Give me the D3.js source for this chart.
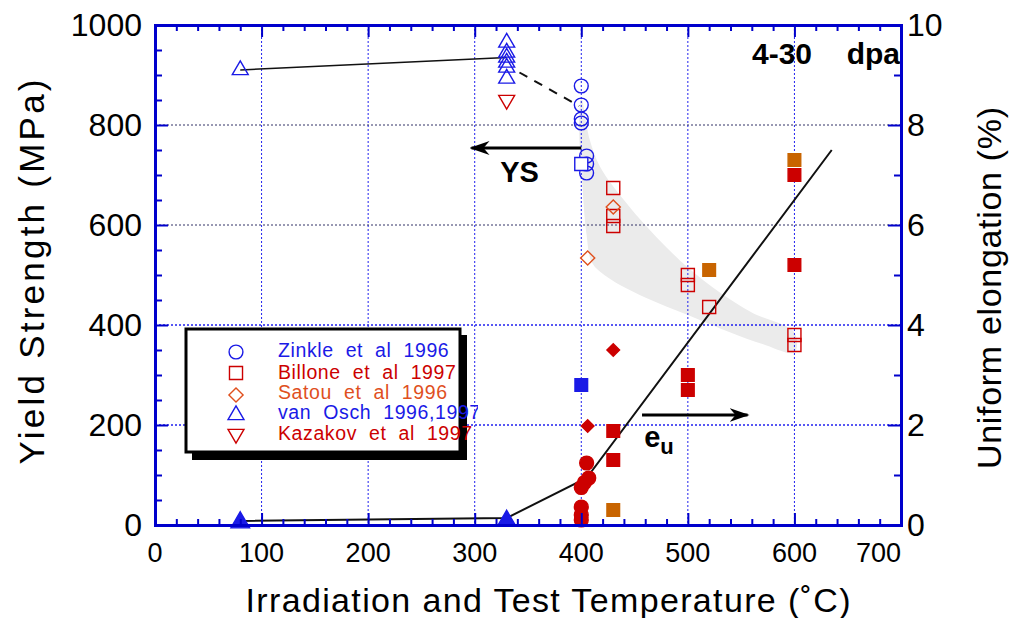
<!DOCTYPE html>
<html><head><meta charset="utf-8">
<script src="https://cdn.jsdelivr.net/npm/d3@7"></script>
<style>body{margin:0;background:#fff} text{font-family:"Liberation Sans",Arial,Helvetica,sans-serif}</style>
</head><body>
<svg id="c" width="1011" height="618"></svg>
<script>
// ---------- data ----------
const xTicks = [0,100,200,300,400,500,600,700];
const yLeftTicks = [0,200,400,600,800,1000];
const yRightTicks = [0,2,4,6,8,10];
const legendLabels = ["Zinkle et al 1996","Billone et al 1997","Satou et al 1996","van Osch 1996,1997","Kazakov et al 1997"];

// yield strength (MPa, left axis) - open symbols
const zinkleYS = [[400,878],[400,840],[400,812],[400,804],[405,738],[405,722],[405,704]];
const blueSquareYS = [[400,722]];
const billoneYS = [[430,674],[430,618],[430,598],[500,500],[500,480],[520,436],[600,380],[600,360]];
const satouYS = [[430,636],[406,534]];
const vanOschYS = [[330,965],[330,945],[330,935],[330,925],[330,915],[330,893],[80,910]];
const kazakovYS = [[330,850]];
const ysTrendSolid = [[80,910],[330,935]];
const ysTrendDashed = [[342,905],[398,838]];
const bandUpper = [[400,855],[408,770],[418,715],[440,650],[460,600],[480,555],[500,515],[530,465],[560,425],[600,385]];
const bandLower = [[398,800],[401,680],[405,580],[410,525],[425,495],[460,455],[500,420],[540,385],[570,362],[600,345]];

// uniform elongation (%, right axis) - filled symbols
const vanOschEU = [[80,0.05],[330,0.08]];
const zinkleEU = [[405,1.24],[407,0.94],[403,0.85],[400,0.75],[400,0.36],[400,0.2],[400,0.1]];
const blueSquareEU = [[400,2.8]];
const billoneEU = [[430,1.88],[430,1.3],[500,3.0],[500,2.7],[600,7.0],[600,5.2]];
const billoneEU2 = [[430,0.3],[520,5.1],[600,7.3]];
const satouEU = [[406,1.98],[430,3.5]];
const euTrend = [[80,0.08],[330,0.14],[405,0.94],[635,7.5]];

// ---------- layout ----------
const svg = d3.select("#c");
const L=155, R=901, T=25, B=525;
const x = d3.scaleLinear().domain([0,700]).range([L,R]);
const yL = d3.scaleLinear().domain([0,1000]).range([B,T]);
const yR = d3.scaleLinear().domain([0,10]).range([B,T]);
const AX="#0000cc", BLUE="#1a1ae6", RED="#cc0000", ORANGE="#e0501e", BROWN="#c86400";

// band
const band = bandUpper.concat(bandLower.slice().reverse());
svg.append("path").attr("d", d3.line().x(d=>x(d[0])).y(d=>yL(d[1])).curve(d3.curveCatmullRomClosed)(band))
  .attr("fill","#ebebeb");

// grid
[100,200,300,400,500,600].forEach(v=>{
  svg.append("line").attr("x1",x(v)).attr("x2",x(v)).attr("y1",T).attr("y2",B)
    .attr("stroke","#2020ee").attr("stroke-width",1).attr("stroke-dasharray","2,2");
});
[200,400].forEach(v=>{
  svg.append("line").attr("x1",L).attr("x2",R).attr("y1",yL(v)).attr("y2",yL(v))
    .attr("stroke","#2020ee").attr("stroke-width",1.3).attr("stroke-dasharray","2,2");
});
[600,800].forEach(v=>{
  svg.append("line").attr("x1",L).attr("x2",R).attr("y1",yL(v)).attr("y2",yL(v))
    .attr("stroke","#333366").attr("stroke-width",1).attr("stroke-dasharray","2,2");
});

// trend lines
const lineL = d3.line().x(d=>x(d[0])).y(d=>yL(d[1]));
const lineR = d3.line().x(d=>x(d[0])).y(d=>yR(d[1]));
svg.append("path").attr("d",lineL(ysTrendSolid)).attr("fill","none").attr("stroke","#111").attr("stroke-width",1.5);
svg.append("path").attr("d",lineL(ysTrendDashed)).attr("fill","none").attr("stroke","#111").attr("stroke-width",2).attr("stroke-dasharray","9,8");
svg.append("path").attr("d",lineR(euTrend)).attr("fill","none").attr("stroke","#111").attr("stroke-width",2);

// markers
const sym = (type,size)=>d3.symbol().type(type).size(size)();
function pts(data, yScale, type, size, fill, stroke, rot){
  svg.append("g").selectAll("path").data(data).join("path")
    .attr("d", sym(type,size))
    .attr("transform", d=>`translate(${x(d[0])},${yScale(d[1])})${rot?` rotate(${rot})`:""}`)
    .attr("fill", fill).attr("stroke", stroke).attr("stroke-width", 1.4);
}
pts(zinkleYS, yL, d3.symbolCircle, 150, "none", BLUE);
pts(vanOschYS, yL, d3.symbolTriangle, 110, "none", BLUE);
pts(kazakovYS, yL, d3.symbolTriangle, 110, "none", RED, 180);
pts(billoneYS, yL, d3.symbolSquare, 170, "none", RED);
pts(blueSquareYS, yL, d3.symbolSquare, 170, "white", BLUE);
pts(satouYS, yL, d3.symbolSquare, 100, "none", ORANGE, 45);

pts(vanOschEU, yR, d3.symbolTriangle, 150, BLUE, BLUE);
pts(zinkleEU, yR, d3.symbolCircle, 150, RED, RED);
pts(blueSquareEU, yR, d3.symbolSquare, 160, BLUE, BLUE);
pts(billoneEU, yR, d3.symbolSquare, 160, RED, RED);
pts(billoneEU2, yR, d3.symbolSquare, 160, BROWN, BROWN);
pts(satouEU, yR, d3.symbolSquare, 80, RED, RED, 45);

// arrows
const defs = svg.append("defs");
defs.append("marker").attr("id","ah").attr("viewBox","0 0 20 14").attr("refX",18).attr("refY",7)
  .attr("markerWidth",20).attr("markerHeight",14).attr("markerUnits","userSpaceOnUse").attr("orient","auto")
  .append("path").attr("d","M0,0 L20,7 L0,14 L6,7 Z").attr("fill","#000");
svg.append("line").attr("x1",x(400)).attr("y1",yL(754)).attr("x2",x(297)).attr("y2",yL(754))
  .attr("stroke","#000").attr("stroke-width",3).attr("marker-end","url(#ah)");
svg.append("line").attr("x1",x(457)).attr("y1",yR(2.2)).attr("x2",x(556)).attr("y2",yR(2.2))
  .attr("stroke","#000").attr("stroke-width",3).attr("marker-end","url(#ah)");
svg.append("text").attr("x",x(342)).attr("y",yL(686)).attr("text-anchor","middle")
  .attr("font-size",29).attr("font-weight","bold").text("YS");
const eu = svg.append("text").attr("x",x(459)).attr("y",yR(1.56)).attr("font-size",29).attr("font-weight","bold");
eu.append("tspan").text("e");
eu.append("tspan").attr("dy",7).attr("font-size",22).text("u");
svg.append("text").attr("x",752).attr("y",64).attr("font-size",30).attr("font-weight","bold").text("4-30");
svg.append("text").attr("x",900).attr("y",64).attr("text-anchor","end").attr("font-size",30).attr("font-weight","bold").text("dpa");

// legend
const lg = svg.append("g");
lg.append("rect").attr("x",192).attr("y",335).attr("width",275).attr("height",125).attr("fill","#000");
lg.append("rect").attr("x",186).attr("y",329).attr("width",274).attr("height",123).attr("fill","#fff").attr("stroke","#000").attr("stroke-width",3);
defs.append("clipPath").attr("id","lc").append("rect").attr("x",180).attr("y",320).attr("width",298).attr("height",150);
const lgColors=[BLUE,RED,ORANGE,BLUE,RED];
const lgSyms=[[d3.symbolCircle,150,0],[d3.symbolSquare,170,0],[d3.symbolSquare,100,45],[d3.symbolTriangle,110,0],[d3.symbolTriangle,110,180]];
const rowY=[352,373,395,415,434], baseY=[357,379,399,419,440];
legendLabels.forEach((t,i)=>{
  lg.append("path").attr("d",sym(lgSyms[i][0],lgSyms[i][1]))
    .attr("transform",`translate(236,${rowY[i]}) rotate(${lgSyms[i][2]})`)
    .attr("fill","none").attr("stroke",lgColors[i]).attr("stroke-width",1.4);
  lg.append("text").attr("x",278).attr("y",baseY[i]).attr("font-size",19.5)
    .attr("letter-spacing",0.6).attr("word-spacing",6).attr("fill",lgColors[i])
    .attr("clip-path","url(#lc)").text(t);
});

// axes
function axis(gen, tf, ticks, size){ 
  return svg.append("g").attr("transform",tf).call(gen.tickValues(ticks).tickSize(size).tickFormat(""));
}
const minorX = d3.range(0,701,20).filter(v=>v%100), majorX = xTicks;
const styleAxis = g=>{ g.selectAll("path").attr("stroke",AX).attr("stroke-width",3); g.selectAll("line").attr("stroke",AX).attr("stroke-width",2); };
axis(d3.axisBottom(x),`translate(0,${B})`,minorX,-6).call(styleAxis);
axis(d3.axisBottom(x),`translate(0,${B})`,majorX,-12).call(styleAxis);
axis(d3.axisTop(x),`translate(0,${T})`,minorX,-6).call(styleAxis);
axis(d3.axisTop(x),`translate(0,${T})`,majorX,-12).call(styleAxis);
axis(d3.axisLeft(yL),`translate(${L},0)`,d3.range(0,1001,50).filter(v=>v%200),-7).call(styleAxis);
axis(d3.axisLeft(yL),`translate(${L},0)`,yLeftTicks,-13).call(styleAxis);
axis(d3.axisRight(yR),`translate(${R},0)`,[1,3,5,7,9],-7).call(styleAxis);
axis(d3.axisRight(yR),`translate(${R},0)`,yRightTicks,-13).call(styleAxis);

// tick labels
svg.append("g").selectAll("text").data(xTicks).join("text")
  .attr("x",d=>d===700?R:x(d)).attr("y",562).attr("text-anchor",d=>d===700?"end":"middle")
  .attr("font-size",27).text(d=>d);
svg.append("g").selectAll("text").data(yLeftTicks).join("text")
  .attr("x",142).attr("y",d=>yL(d)+11).attr("text-anchor","end").attr("font-size",32).text(d=>d);
svg.append("g").selectAll("text").data(yRightTicks).join("text")
  .attr("x",907).attr("y",d=>yR(d)+11).attr("text-anchor","start").attr("font-size",32).text(d=>d);

// axis titles
svg.append("text").attr("x",548).attr("y",612).attr("text-anchor","middle").attr("font-size",34)
  .attr("textLength",605).attr("lengthAdjust","spacing")
  .text("Irradiation and Test Temperature (˚C)");
svg.append("text").attr("transform","translate(44,272) rotate(-90)").attr("text-anchor","middle").attr("font-size",35)
  .attr("textLength",385).attr("lengthAdjust","spacing")
  .text("Yield Strength (MPa)");
svg.append("text").attr("transform","translate(1001,288) rotate(-90)").attr("text-anchor","middle").attr("font-size",34)
  .attr("textLength",362).attr("lengthAdjust","spacing")
  .text("Uniform elongation (%)");
</script></body></html>
